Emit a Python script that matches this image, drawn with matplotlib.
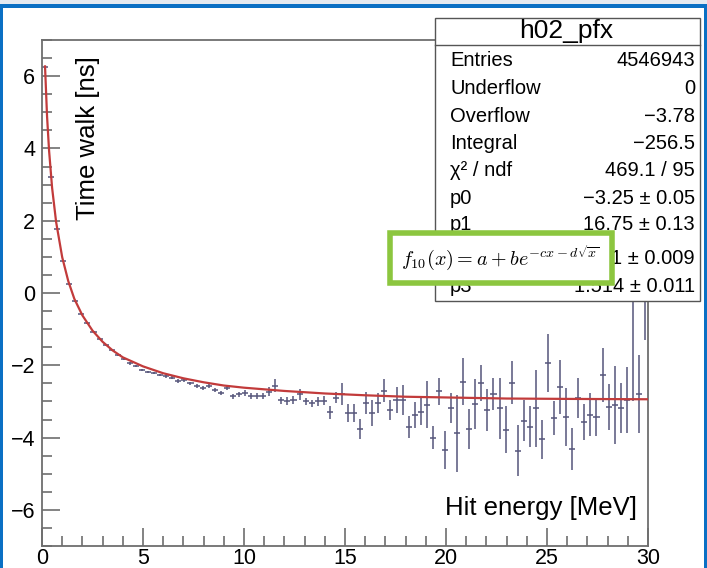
import matplotlib
matplotlib.use("Agg")
import matplotlib.pyplot as plt
import numpy as np
from matplotlib.patches import Rectangle
from matplotlib.ticker import MultipleLocator

plt.rcParams['font.family'] = ['Liberation Sans', 'DejaVu Sans']
plt.rcParams['mathtext.fontset'] = 'cm'

# profile of time walk vs hit energy, 100 bins of 0.3 MeV
bin_width = 0.3
bin_x = np.arange(100) * bin_width + bin_width / 2

time_walk = [
    6.25, 3.20, 1.78, 0.88, 0.25, -0.22, -0.57, -0.84, -1.08, -1.27,
    -1.45, -1.58, -1.72, -1.82, -1.95, -2.03, -2.12, -2.18, -2.22, -2.28,
    -2.31, -2.35, -2.44, -2.42, -2.50, -2.57, -2.62, -2.58, -2.68, -2.76,
    -2.62, -2.86, -2.80, -2.76, -2.86, -2.85, -2.86, -2.73, -2.57, -2.97,
    -2.99, -2.96, -2.80, -3.00, -3.05, -3.00, -2.98, -3.30, -2.90, -2.79,
    -3.31, -3.31, -3.77, -3.05, -3.31, -3.05, -2.70, -3.24, -2.96, -2.96,
    -3.71, -3.37, -3.28, -3.09, -4.01, -2.72, -4.34, -3.18, -3.88, -2.45,
    -3.77, -3.07, -2.48, -3.24, -2.80, -3.19, -3.78, -2.48, -4.36, -3.53,
    -3.70, -3.19, -4.04, -1.94, -3.46, -2.60, -3.43, -4.32, -2.91, -3.58,
    -3.37, -3.43, -2.27, -3.16, -3.10, -3.19, -2.96, 0.00, -2.79, 1.00]

time_err = [
    0.02, 0.02, 0.02, 0.02, 0.02, 0.02, 0.02, 0.02, 0.02, 0.02,
    0.03, 0.03, 0.03, 0.03, 0.03, 0.03, 0.03, 0.03, 0.03, 0.03,
    0.04, 0.04, 0.05, 0.05, 0.05, 0.05, 0.06, 0.06, 0.06, 0.06,
    0.07, 0.07, 0.07, 0.08, 0.08, 0.08, 0.08, 0.12, 0.18, 0.10,
    0.10, 0.10, 0.15, 0.10, 0.10, 0.12, 0.12, 0.18, 0.15, 0.30,
    0.25, 0.25, 0.28, 0.30, 0.36, 0.28, 0.31, 0.28, 0.35, 0.42,
    0.30, 0.36, 0.38, 0.65, 0.32, 0.37, 0.53, 0.42, 1.06, 0.65,
    0.55, 0.68, 0.50, 0.58, 0.45, 0.84, 0.64, 0.60, 0.71, 0.56,
    0.56, 1.06, 0.54, 0.80, 0.48, 0.76, 0.81, 0.58, 0.55, 0.50,
    0.60, 0.53, 0.74, 0.64, 1.09, 0.69, 0.92, 3.00, 1.08, 2.30]

# fitted curve
fit_x = [0.15, 0.25, 0.35, 0.5, 0.7, 1.0, 1.3, 1.6, 2.0, 2.5, 3.0, 3.5, 4.0,
         5.0, 6.0, 7.0, 8.0, 9.0, 10, 12, 14, 16, 18, 20, 23, 26, 30]
fit_y = [6.27, 4.89, 3.94, 2.91, 1.96, 0.99, 0.33, -0.16, -0.62, -1.04, -1.35,
         -1.59, -1.78, -2.03, -2.22, -2.36, -2.47, -2.56, -2.62, -2.71, -2.78,
         -2.83, -2.87, -2.89, -2.92, -2.93, -2.94]

stat_title = "h02_pfx"
stat_names = ["Entries", "Underflow", "Overflow", "Integral", "χ² / ndf",
              "p0", "p1", "p2", "p3"]
stat_values = ["4546943", "0", "\u22123.78", "\u2212256.5", "469.1 / 95",
               "\u22123.25 \u00b1 0.05", "16.75 \u00b1 0.13",
               "\u22120.1421 \u00b1 0.009", "1.514 \u00b1 0.011"]
stat_rows_y = [60, 88, 116, 143, 171, 198, 225, 258, 287]  # pixel rows

W, H = 707, 568
fig = plt.figure(figsize=(W / 100, H / 100), dpi=100)


def fx(px):
    return px / W


def fy(py):
    return 1 - py / H


frame_col = '#6e6e6e'
ax = fig.add_axes([fx(42), fy(546), fx(648) - fx(42), fy(40) - fy(546)])
ax.errorbar(bin_x, time_walk, xerr=bin_width / 2, yerr=time_err, fmt='none',
            ecolor='#55557a', elinewidth=1.1, capsize=0, zorder=2)
ax.plot(fit_x, fit_y, color='#c23b3b', lw=1.6, zorder=3)

ax.set_xlim(0, 30)
ax.set_ylim(-7, 7)
ax.xaxis.set_major_locator(MultipleLocator(5))
ax.xaxis.set_minor_locator(MultipleLocator(1))
ax.yaxis.set_major_locator(MultipleLocator(2))
ax.yaxis.set_minor_locator(MultipleLocator(0.5))
ax.yaxis.set_major_formatter(plt.FuncFormatter(lambda v, p: f"{v:.0f}".replace('-', '\u2212')))
ax.tick_params(which='both', direction='in', color=frame_col, width=1.2,
               labelsize=15.5, top=False, right=False)
ax.tick_params(which='major', length=13)
ax.tick_params(axis='x', which='major', pad=1.5)
ax.tick_params(axis='y', which='major', pad=5)
ax.tick_params(which='minor', length=7)
for s in ax.spines.values():
    s.set_color(frame_col)
    s.set_linewidth(1.3)

ax.text(fx(88), fy(138), "Time walk [ns]", transform=fig.transFigure,
        rotation=90, ha='center', va='center', fontsize=18.5)
ax.text(fx(637), fy(508), "Hit energy [MeV]", transform=fig.transFigure,
        ha='right', va='center', fontsize=18.5)

# stats box
fig.patches.append(Rectangle((fx(435), fy(301)), fx(700) - fx(435), fy(18) - fy(301),
                             transform=fig.transFigure, facecolor='white',
                             edgecolor='#555555', lw=1.0, zorder=5))
fig.lines.append(plt.Line2D([fx(435), fx(700)], [fy(45), fy(45)],
                            transform=fig.transFigure, color='#555555', lw=1.0, zorder=6))
fig.text(fx(566), fy(31), stat_title, ha='center', va='center', fontsize=19, zorder=7)
for name, val, ry in zip(stat_names, stat_values, stat_rows_y):
    fig.text(fx(450), fy(ry), name, ha='left', va='center', fontsize=14.5, zorder=7)
    fig.text(fx(695), fy(ry), val, ha='right', va='center', fontsize=14.5, zorder=7)

# formula box
fig.patches.append(Rectangle((fx(390), fy(283)), fx(612) - fx(390), fy(233) - fy(283),
                             transform=fig.transFigure, facecolor='white',
                             edgecolor='#8cc63f', lw=4, zorder=8))
fig.text(fx(500), fy(258), r"$f_{10}(x) = a + be^{-cx-d\sqrt{x}}$",
         ha='center', va='center', fontsize=14.5, zorder=9)

# slide frame
blue = '#0a70c4'
fig.patches.append(Rectangle((0, fy(4)), 1, fy(0) - fy(4), transform=fig.transFigure,
                             facecolor='#e4eaf1', edgecolor='none', zorder=10))
fig.patches.append(Rectangle((0, fy(8)), 1, fy(4) - fy(8), transform=fig.transFigure,
                             facecolor=blue, edgecolor='none', zorder=10))
fig.patches.append(Rectangle((0, 0), fx(3), fy(4), transform=fig.transFigure,
                             facecolor=blue, edgecolor='none', zorder=10))
fig.patches.append(Rectangle((fx(704), 0), fx(3), fy(4), transform=fig.transFigure,
                             facecolor=blue, edgecolor='none', zorder=10))

fig.savefig("out.png", dpi=100)
